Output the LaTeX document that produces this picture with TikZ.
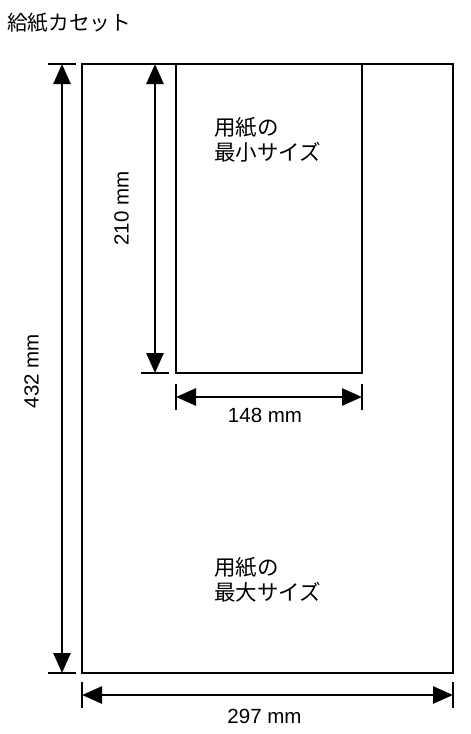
\documentclass[tikz,border=0pt]{standalone}
\usepackage{fontspec}
\setmainfont{Liberation Sans}
\newfontfamily\jpfont{Noto Sans CJK JP}
\usetikzlibrary{arrows.meta}
\begin{document}
\begin{tikzpicture}[x=1pt,y=-1pt,
  paper/.style={draw=black, line width=2.3pt, inner sep=0pt, outer sep=0pt, anchor=north west},
  dimline/.style={line width=2.6pt, {Triangle[length=20pt,width=17pt]}-{Triangle[length=20pt,width=17pt]}, shorten <=0pt, shorten >=0pt},
  tick/.style={line width=2.3pt},
  dimlabel/.style={font=\fontsize{20.5}{24}\selectfont, inner sep=0pt},
  jplabel/.style={font=\jpfont\fontsize{21.5}{25}\selectfont, align=left, inner sep=0pt, anchor=west}]
\useasboundingbox (0,0) rectangle (471,734);
\node[font=\jpfont\fontsize{20.7}{24}\selectfont, anchor=west, inner sep=0pt] (title) at (7,22.5) {給紙カセット};
% paper rectangles
\node[paper, minimum width=371pt, minimum height=609pt] (big) at (82,64) {};
\node[paper, minimum width=186pt, minimum height=309pt] (small) at (176,64) {};
% dimension coordinates
\coordinate (a1) at (62,64);  \coordinate (a2) at (62,673);
\coordinate (a1l) at (48,64); \coordinate (a1r) at (76,64);
\coordinate (a2l) at (48,673); \coordinate (a2r) at (76,673);
\coordinate (b1) at (155,64); \coordinate (b2) at (155,373);
\coordinate (b1l) at (141,64); \coordinate (b1r) at (169,64);
\coordinate (b2l) at (141,373); \coordinate (b2r) at (169,373);
\coordinate (c1) at (176,397); \coordinate (c2) at (362,397);
\coordinate (c1t) at (176,384); \coordinate (c1b) at (176,410);
\coordinate (c2t) at (362,384); \coordinate (c2b) at (362,410);
\coordinate (d1) at (82,695); \coordinate (d2) at (453,695);
\coordinate (d1t) at (82,682); \coordinate (d1b) at (82,708);
\coordinate (d2t) at (453,682); \coordinate (d2b) at (453,708);
% ticks
\draw[tick] (a1l) -- (a1r);
\draw[tick] (a2l) -- (a2r);
\draw[tick] (b1l) -- (b1r);
\draw[tick] (b2l) -- (b2r);
\draw[tick] (c1t) -- (c1b);
\draw[tick] (c2t) -- (c2b);
\draw[tick] (d1t) -- (d1b);
\draw[tick] (d2t) -- (d2b);
% dimension lines
\draw[dimline] (a1) -- (a2);
\draw[dimline] (b1) -- (b2);
\draw[dimline] (c1) -- (c2);
\draw[dimline] (d1) -- (d2);
% labels
\node[dimlabel, rotate=90] (l432) at (31.5,371) {432 mm};
\node[dimlabel, rotate=90] (l210) at (121.5,208.5) {210 mm};
\node[dimlabel] (l148) at (265,415.5) {148 mm};
\node[dimlabel] (l297) at (264.5,716.5) {297 mm};
\node[jplabel] (minsize) at (214,140) {用紙の\\最小サイズ};
\node[jplabel] (maxsize) at (214,579.5) {用紙の\\最大サイズ};
\end{tikzpicture}
\end{document}
